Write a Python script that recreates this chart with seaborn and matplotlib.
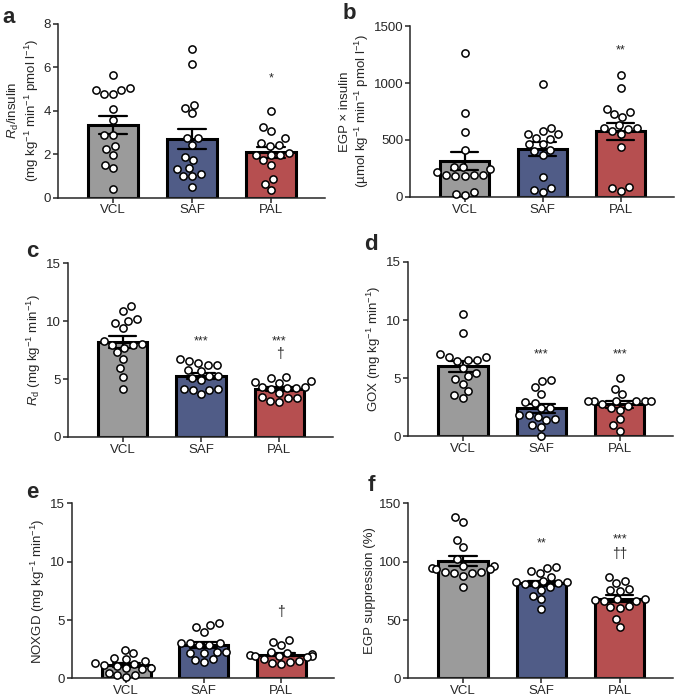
import matplotlib
matplotlib.use("Agg")
import matplotlib.pyplot as plt
import seaborn as sns
import pandas as pd

groups = ["VCL", "SAF", "PAL"]
bar_colors = ["#9b9b9b", "#475790", "#c73e3f"]

# a: Rd / insulin
rd_ins_vcl = [5.62, 4.97, 4.75, 4.75, 5.04, 4.97, 4.09, 3.56, 2.90, 2.90, 2.38, 2.22, 1.95, 1.52, 1.36, 0.41]
rd_ins_saf = [6.85, 6.13, 4.27, 4.11, 3.88, 2.76, 2.76, 2.44, 1.87, 1.71, 1.36, 1.30, 0.99, 1.07, 0.99, 0.49]
rd_ins_pal = [3.98, 3.23, 3.08, 2.73, 2.50, 2.44, 2.36, 2.05, 1.96, 1.96, 1.96, 1.71, 1.49, 0.84, 0.64, 0.34]

# b: EGP x insulin
egp_ins_vcl = [1268, 738, 571, 416, 261, 261, 243, 214, 196, 196, 193, 185, 185, 41, 29, 20]
egp_ins_saf = [996, 606, 580, 551, 551, 519, 504, 463, 463, 416, 401, 366, 176, 79, 59, 41]
egp_ins_pal = [1075, 955, 724, 776, 744, 703, 601, 630, 609, 580, 598, 551, 439, 50, 88, 79]

# c: Rd
rd_vcl = [11.26, 10.91, 10.19, 10.05, 9.82, 9.41, 8.32, 8.0, 7.95, 7.95, 7.69, 7.3, 6.74, 5.93, 5.21, 4.17]
rd_saf = [6.22, 6.59, 6.42, 6.22, 6.71, 5.79, 5.70, 5.12, 5.27, 4.92, 5.27, 4.06, 4.15, 4.06, 4.15, 3.69]
rd_pal = [4.69, 4.35, 5.07, 4.78, 5.21, 4.84, 4.35, 4.26, 4.12, 4.26, 3.49, 3.40, 3.40, 3.83, 3.11, 3.05]

# d: GOX
gox_vcl = [10.50, 8.89, 6.83, 6.83, 6.48, 6.60, 7.06, 6.54, 5.91, 5.16, 4.96, 5.45, 4.53, 3.90, 3.53, 3.30]
gox_saf = [4.88, 4.76, 4.24, 3.67, 2.90, 2.96, 2.39, 2.47, 1.81, 1.66, 1.81, 1.43, 1.46, 0.80, 0.95, 0.03]
gox_pal = [5.05, 4.10, 3.61, 3.0, 3.0, 3.05, 3.05, 3.05, 3.05, 2.75, 2.6, 2.4, 2.3, 1.46, 0.95, 0.46]

# e: NOXGD
noxgd_vcl = [2.43, 2.14, 1.77, 1.66, 1.49, 1.29, 1.23, 1.14, 1.06, 0.86, 0.86, 0.77, 0.5, 0.29, 0.29, 0.09]
noxgd_saf = [4.77, 4.57, 4.37, 4.0, 3.06, 3.0, 3.0, 2.91, 2.86, 2.29, 2.29, 2.2, 2.2, 1.63, 1.57, 1.43]
noxgd_pal = [3.29, 3.14, 2.85, 2.29, 2.2, 2.09, 2.0, 1.95, 1.91, 1.91, 1.86, 1.63, 1.49, 1.43, 1.34, 1.23]

# f: EGP suppression
egp_sup_vcl = [138, 133.7, 118.6, 112.9, 102.3, 96.6, 96.6, 94.3, 93.4, 93.4, 91.4, 91.4, 90, 90, 87.7, 78]
egp_sup_saf = [95.7, 90.6, 94.9, 92.3, 87.1, 81.4, 78, 82.3, 83.7, 80.9, 80.9, 82.3, 75.7, 70.6, 68, 59.4]
egp_sup_pal = [87.1, 82, 83.4, 75.1, 75.7, 76.3, 62, 67.7, 67.1, 67.7, 66.6, 66.6, 60.6, 61.4, 50.6, 43.7]

sns.set_style("ticks")
plt.rcParams["font.family"] = ["Liberation Sans", "DejaVu Sans"]
plt.rcParams["mathtext.fontset"] = "custom"
plt.rcParams["mathtext.rm"] = "Liberation Sans"
plt.rcParams["mathtext.it"] = "Liberation Sans:italic"

kg_min = r"(mg kg$^{-1}$ min$^{-1}$)"
panels = [
    ("a", [rd_ins_vcl, rd_ins_saf, rd_ins_pal],
     r"$\it{R}_{\rm d}$/insulin" + "\n" + r"(mg kg$^{-1}$ min$^{-1}$ pmol l$^{-1}$)",
     [0, 2, 4, 6, 8], [None, None, [("*", 5.5)]]),
    ("b", [egp_ins_vcl, egp_ins_saf, egp_ins_pal],
     "EGP × insulin\n" + r"(µmol kg$^{-1}$ min$^{-1}$ pmol l$^{-1}$)",
     [0, 500, 1000, 1500], [None, None, [("**", 1290)]]),
    ("c", [rd_vcl, rd_saf, rd_pal], r"$\it{R}_{\rm d}$ " + kg_min,
     [0, 5, 10, 15], [None, [("***", 8.2)], [("***", 8.2), ("†", 7.2)]]),
    ("d", [gox_vcl, gox_saf, gox_pal], "GOX " + kg_min,
     [0, 5, 10, 15], [None, [("***", 7.0)], [("***", 7.0)]]),
    ("e", [noxgd_vcl, noxgd_saf, noxgd_pal], "NOXGD " + kg_min,
     [0, 5, 10, 15], [None, None, [("†", 5.7)]]),
    ("f", [egp_sup_vcl, egp_sup_saf, egp_sup_pal], "EGP suppression (%)",
     [0, 50, 100, 150], [None, [("**", 116)], [("***", 119), ("††", 106.5)]]),
]

# axes rectangles (figure fractions)
rects = [
    (0.0854, 0.717, 0.393, 0.249),
    (0.604, 0.718, 0.388, 0.2445),
    (0.100, 0.374, 0.390, 0.249),
    (0.601, 0.375, 0.390, 0.2497),
    (0.106, 0.028, 0.386, 0.2507),
    (0.601, 0.028, 0.390, 0.2507),
]
label_pos = [(0.004, 0.99), (0.505, 0.995), (0.038, 0.655), (0.536, 0.665), (0.038, 0.31), (0.542, 0.32)]

fig = plt.figure(figsize=(6.79, 6.98), dpi=100)

for (letter, vals, ylab, yticks, marks), rect, lp in zip(panels, rects, label_pos):
    ax = fig.add_axes(rect)
    df = pd.DataFrame({
        "group": sum([[g] * len(v) for g, v in zip(groups, vals)], []),
        "value": sum(vals, []),
    })
    sns.barplot(data=df, x="group", y="value", hue="group", palette=bar_colors,
                order=groups, hue_order=groups, legend=False, errorbar="se",
                capsize=0.35, width=0.63, edgecolor="black", linewidth=2.2,
                err_kws={"color": "black", "linewidth": 1.6}, ax=ax)
    sns.swarmplot(data=df, x="group", y="value", order=groups,
                  color="white", edgecolor="black", linewidth=1.1, size=5.2, ax=ax)
    for coll in ax.collections:
        coll.set_clip_on(False)
    for i, m in enumerate(marks):
        if m:
            for txt, yy in m:
                ax.text(i, yy, txt, ha="center", va="center", fontsize=10 if "†" in txt else 9)
    ax.set_xlim(-0.7, 2.68)
    ax.set_ylim(0, yticks[-1])
    ax.set_yticks(yticks)
    ax.set_xlabel("")
    ax.set_ylabel(ylab, fontsize=9.5, labelpad=2, linespacing=1.1)
    ax.tick_params(axis="both", labelsize=9.5, width=1.1, length=3.5, pad=1.5)
    for s in ["left", "bottom"]:
        ax.spines[s].set_linewidth(1.1)
    sns.despine(ax=ax)
    fig.text(lp[0], lp[1], letter, fontsize=16, fontweight="bold", va="top", ha="left")

fig.savefig("out.png", dpi=100)
